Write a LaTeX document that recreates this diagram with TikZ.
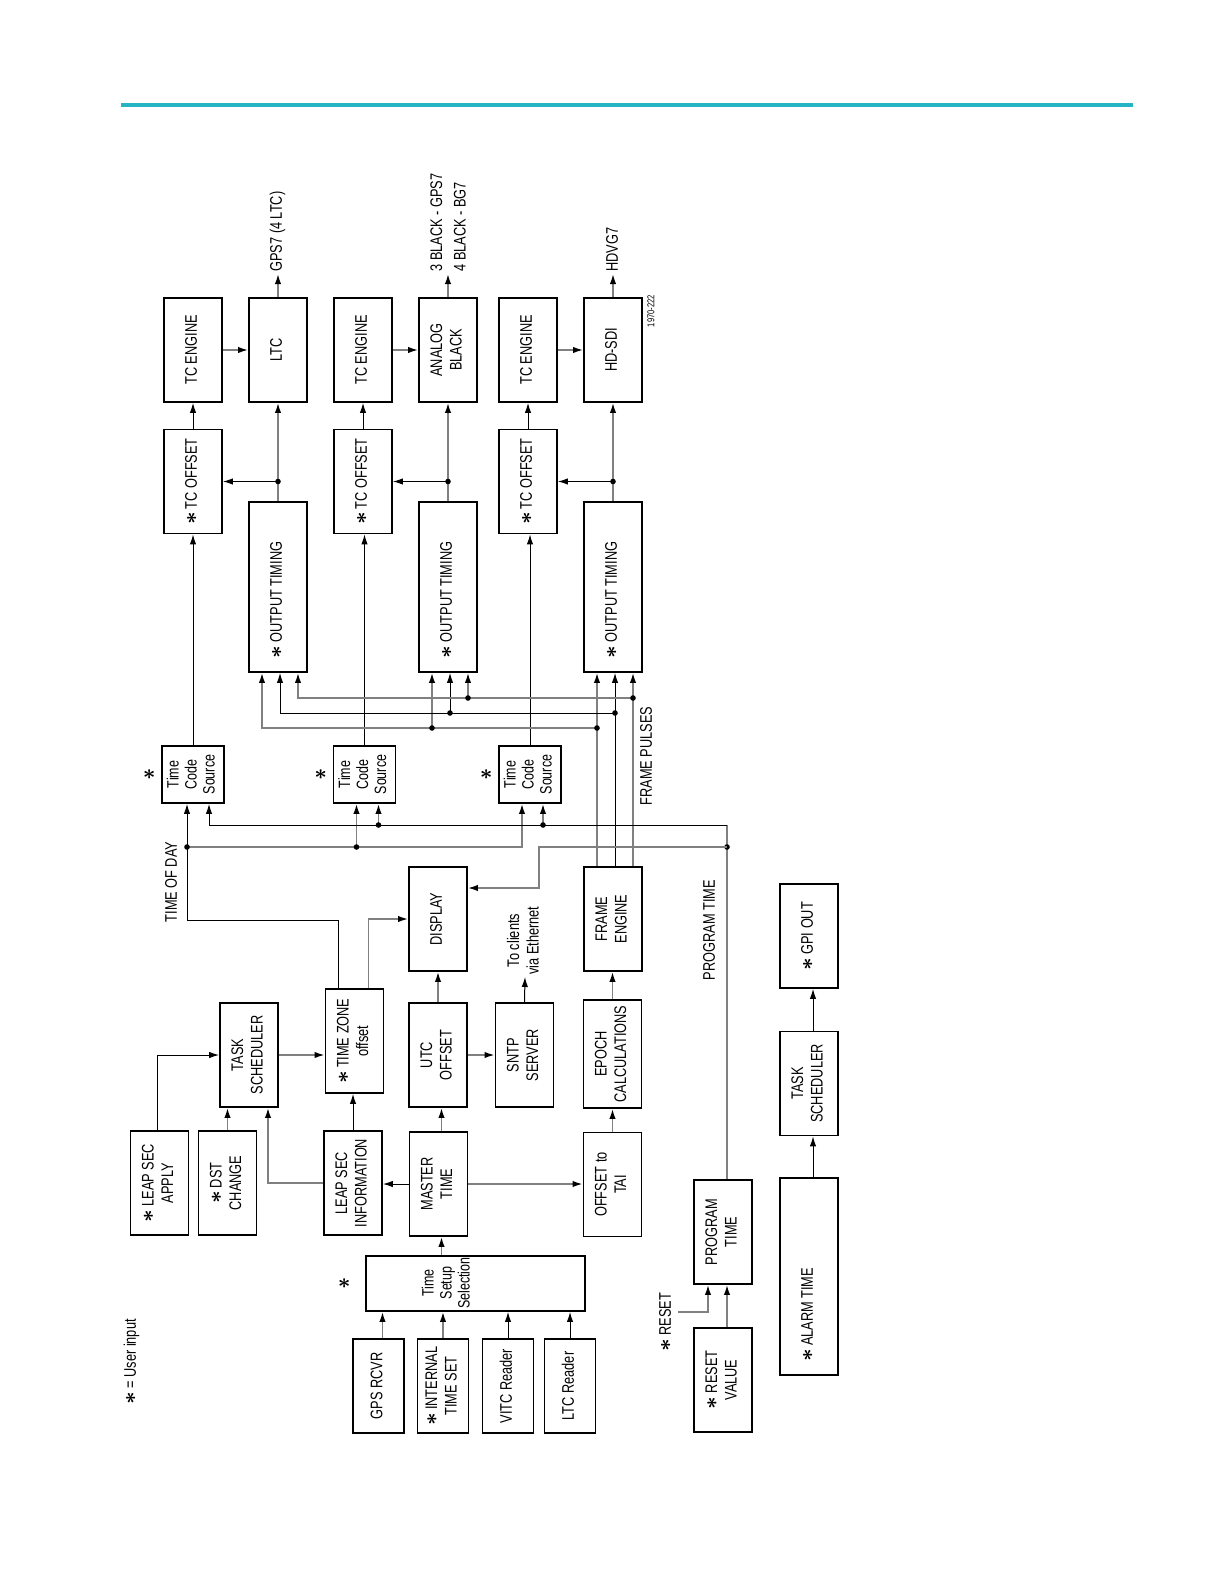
\documentclass[tikz,border=0pt]{standalone}
\usepackage{fontspec}
\setmainfont{Liberation Sans}[FakeStretch=0.76]
\usepackage{graphicx}
\usepackage{tikz}
\usetikzlibrary{arrows.meta,positioning}
\definecolor{wire}{gray}{0.5}
\definecolor{topbar}{RGB}{36,180,196}
\newcommand{\dgfont}{\fontsize{8.4}{9.8}\selectfont}
\newcommand{\usr}{\scalebox{1.3}{\boldmath$\ast$}}
\newcommand{\vt}[1]{\rotatebox{90}{\begin{tabular}{@{}c@{}}#1\end{tabular}}}
\newcommand{\vtl}[1]{\rotatebox{90}{\begin{tabular}{@{}l@{}}#1\end{tabular}}}

\begin{document}
\begin{tikzpicture}[
      x=0.5pt, y=-0.5pt,
      blk/.style={draw,line width=0.9pt,inner sep=0pt,minimum width=29pt,minimum height=52pt,font=\dgfont},
      tcsbox/.style={blk,minimum width=31pt,minimum height=28.5pt,font=\fontsize{8.2}{9}\selectfont},
      otbox/.style={blk,minimum height=85pt},
      inbox/.style={blk,minimum width=25.5pt,minimum height=47pt},
      lbl/.style={inner sep=1pt,font=\dgfont},
      barr/.style={-{Latex[length=5pt,width=3.2pt,color=black]},line width=0.5pt},
      garr/.style={barr,draw=wire,line width=0.8pt},
      bln/.style={line width=0.5pt},
      gln/.style={draw=wire,line width=0.8pt}
    ]
    \useasboundingbox (0,0) rectangle (1224,1584);
    \draw[topbar,line width=2pt] (121,105) -- (1133,105);

    % output columns
    \node[blk] (tce1) at (193,350) {\vt{TC ENGINE}};
    \node[blk] (ltc) at (278,350) {\vt{LTC}};
    \node[blk] (tce2) at (363,350) {\vt{TC ENGINE}};
    \node[blk] (analog) at (448,350) {\vt{ANALOG\\BLACK}};
    \node[blk] (tce3) at (528,350) {\vt{TC ENGINE}};
    \node[blk] (hdsdi) at (613,350) {\vt{HD-SDI}};
    \node[blk] (tco1) at (193,481.5) {\vt{\usr\,TC OFFSET}};
    \node[blk] (tco2) at (363,481.5) {\vt{\usr\,TC OFFSET}};
    \node[blk] (tco3) at (528,481.5) {\vt{\usr\,TC OFFSET}};
    \node[otbox] (ot1) at (278,587) {\vt{\makebox[71pt][l]{\usr\,OUTPUT TIMING}}};
    \node[otbox] (ot2) at (448,587) {\vt{\makebox[71pt][l]{\usr\,OUTPUT TIMING}}};
    \node[otbox] (ot3) at (613,587) {\vt{\makebox[71pt][l]{\usr\,OUTPUT TIMING}}};
    \node[tcsbox] (tcs1) at (193,774.5) {\vt{Time\\Code\\Source}};
    \node[tcsbox] (tcs2) at (364.5,774.5) {\vt{Time\\Code\\Source}};
    \node[tcsbox] (tcs3) at (530,774.5) {\vt{Time\\Code\\Source}};
    \node[lbl,left=1.5pt of tcs1] (u1) {\usr};
    \node[lbl,left=1.5pt of tcs2] (u2) {\usr};
    \node[lbl,left=1.5pt of tcs3] (u3) {\usr};

    \node[lbl,anchor=south] (gps7) at (278,274) {\vtl{GPS7 (4 LTC)}};
    \node[lbl,anchor=south] (blkout) at (450,274) {\vtl{3 BLACK - GPS7\\[2pt]4 BLACK - BG7}};
    \node[lbl,anchor=south] (hdvg) at (614,274) {\vt{HDVG7}};
    \node[font=\fontsize{5}{6}\selectfont,inner sep=0pt] (fignum) at (652,311) {\vt{1970-222}};

    % time sources
    \node[blk] (task1) at (249,1055) {\vt{TASK\\SCHEDULER}};
    \node[blk] (tzone) at (354.5,1041) {\vt{\usr\,TIME ZONE\\offset}};
    \node[blk] (display) at (438,919) {\vt{DISPLAY}};
    \node[blk] (utc) at (438,1055) {\vt{UTC\\OFFSET}};
    \node[blk] (sntp) at (524.5,1055) {\vt{SNTP\\SERVER}};
    \node[blk,minimum height=54pt] (epoch) at (612.5,1054) {\vt{EPOCH\\CALCULATIONS}};
    \node[blk] (frame) at (613,919) {\vt{FRAME\\ENGINE}};
    \node[blk] (leapapply) at (159.5,1183) {\vt{\usr\,LEAP SEC\\APPLY}};
    \node[blk] (dst) at (227.5,1183) {\vt{\usr\,DST\\CHANGE}};
    \node[blk] (leapinfo) at (353,1183) {\vt{LEAP SEC\\INFORMATION}};
    \node[blk] (master) at (438.5,1184) {\vt{MASTER\\TIME}};
    \node[blk] (tai) at (612.5,1184.5) {\vt{OFFSET to\\TAI}};
    \node[blk,minimum width=109.5pt,minimum height=27.5pt] (tss) at (475.5,1283.5) {};
    \node[lbl,font=\fontsize{8.2}{9}\selectfont] (tsstext) at (448,1283) {\vt{Time\\Setup\\Selection}};
    \node[lbl,left=6pt of tss] (u4) {\usr};
    \node[inbox] (gps) at (378.5,1386) {\vt{GPS RCVR}};
    \node[inbox] (intl) at (443,1386) {\vt{\usr\,INTERNAL\\TIME SET}};
    \node[inbox] (vitc) at (508,1386) {\vt{VITC Reader}};
    \node[inbox] (ltcr) at (570,1386) {\vt{LTC Reader}};
    \node[lbl] (key) at (132,1362) {\vt{\usr\ = User input}};

    \node[lbl] (todlbl) at (173,882) {\vt{TIME OF DAY}};
    \node[lbl] (fplbl) at (648,756) {\vt{FRAME PULSES}};
    \node[lbl] (ptlbl) at (711,930) {\vt{PROGRAM TIME}};
    \node[lbl,anchor=south] (clients) at (525,977) {\vt{To clients\\via Ethernet}};

    % program time and alarm
    \node[blk] (ptime) at (723,1232) {\vt{PROGRAM\\TIME}};
    \node[blk] (rvalue) at (723,1380) {\vt{\usr\ RESET\\VALUE}};
    \node[lbl] (rstlbl) at (667,1322) {\vt{\usr\,RESET}};
    \node[blk,minimum height=98.5pt] (alarm) at (809,1276.5) {\vt{\makebox[85pt][l]{\usr\,ALARM TIME}}};
    \node[blk] (task2) at (809,1083.5) {\vt{TASK\\SCHEDULER}};
    \node[blk] (gpi) at (809,936) {\vt{\usr\,GPI OUT}};

    % connectors, output side
    \foreach \o/\i in {ltc/1,analog/2,hdsdi/3}{
      \draw[garr] (tce\i) -- (\o);
      \draw[barr] (tco\i) -- (tce\i);
      \draw[garr] (ot\i.north) -- (\o.south);
      \draw[barr] (ot\i.north |- tco\i.east) -- (tco\i.east);
      \fill (ot\i.north |- tco\i.east) circle (1.4pt);
      \draw[barr] (tcs\i.north) -- (tcs\i.north |- tco\i.south);
    }
    \draw[garr] (ltc.north) -- (gps7.south);
    \draw[garr] (analog.north) -- (analog.north |- blkout.south);
    \draw[garr] (hdsdi.north) -- (hdsdi.north |- hdvg.south);

    % frame pulses
    \foreach \dx/\yy/\st in {-8/728/garr,1/713/barr,10/698/garr}{
      \coordinate (by) at (0,\yy);
      \coordinate (b3) at ([xshift=\dx pt]ot3.south);
      \coordinate (b2) at ([xshift=\dx pt]ot2.south);
      \coordinate (b1) at ([xshift=\dx pt]ot1.south);
      \draw[\st] (b3 |- frame.north) -- (b3);
      \draw[\st] (b3 |- by) -| (b1);
      \draw[\st] (b2 |- by) -- (b2);
      \fill (b3 |- by) circle (1.4pt) (b2 |- by) circle (1.4pt);
    }

    % time of day bus
    \coordinate (tod) at (187,920);
    \coordinate (todj) at (187,847);
    \coordinate (c2a) at ([xshift=-4pt]tcs2.south);
    \coordinate (c3a) at ([xshift=-4pt]tcs3.south);
    \draw[barr] ([xshift=-8pt]tzone.north) |- (tod) -- (tod |- tcs1.south);
    \draw[garr] (todj) -| (c3a);
    \draw[garr] (c2a |- todj) -- (c2a);
    \fill (todj) circle (1.4pt) (c2a |- todj) circle (1.4pt);
    \draw[garr] ([xshift=7pt]tzone.north) |- (display.west);

    % program time bus
    \coordinate (ptc) at (727,825);
    \coordinate (ptd) at (727,847);
    \coordinate (kk) at (539,888);
    \coordinate (c1b) at ([xshift=8pt]tcs1.south);
    \coordinate (c2b) at ([xshift=7pt]tcs2.south);
    \coordinate (c3b) at ([xshift=6.5pt]tcs3.south);
    \draw[gln] ([xshift=2pt]ptime.north) -- (ptc);
    \draw[barr] (ptc) -| (c1b);
    \draw[garr] (c2b |- ptc) -- (c2b);
    \draw[garr] (c3b |- ptc) -- (c3b);
    \fill (c2b |- ptc) circle (1.4pt) (c3b |- ptc) circle (1.4pt) (ptd) circle (1.4pt);
    \draw[garr] (ptd) -| (kk) -- (kk -| display.east);

    % master time chain
    \draw[barr] ([xshift=-1pt]leapapply.north) |- (task1.west);
    \draw[garr] (dst.north) -- (dst.north |- task1.south);
    \draw[garr] (leapinfo.west) -| ([xshift=9.5pt]task1.south);
    \draw[garr] (task1.east) -- (task1.east -| tzone.west);
    \draw[barr] (leapinfo.north) -- (leapinfo.north |- tzone.south);
    \draw[barr] (master.west) -- (master.west -| leapinfo.east);
    \draw[garr] (master.east) -- (master.east -| tai.west);
    \draw[garr] ([xshift=1.5pt]master.north) -- ([xshift=1.5pt]master.north |- utc.south);
    \draw[garr] ([xshift=1.5pt]master.south |- tss.north) -- ([xshift=1.5pt]master.south);
    \draw[garr] (utc.north) -- (utc.north |- display.south);
    \draw[garr] (utc.east) -- (utc.east -| sntp.west);
    \draw[barr] (sntp.north) -- (clients.south);
    \draw[garr] (tai.north) -- (tai.north |- epoch.south);
    \draw[garr] (epoch.north) -- (epoch.north |- frame.south);
    \draw[garr] ([xshift=2pt]gps.north) -- ([xshift=2pt]gps.north |- tss.south);
    \draw[garr] (intl.north) -- (intl.north |- tss.south);
    \draw[barr] (vitc.north) -- (vitc.north |- tss.south);
    \draw[barr] (ltcr.north) -- (ltcr.north |- tss.south);

    % program time / alarm
    \coordinate (rst) at (678,1312);
    \draw[garr] (rst) -| ([xshift=-7.5pt]ptime.south);
    \draw[garr] ([xshift=2pt]rvalue.north) -- ([xshift=2pt]ptime.south);
    \draw[barr] ([xshift=2pt]alarm.north) -- ([xshift=2pt]task2.south);
    \draw[barr] ([xshift=2pt]task2.north) -- ([xshift=2pt]gpi.south);
  \end{tikzpicture}
\end{document}
